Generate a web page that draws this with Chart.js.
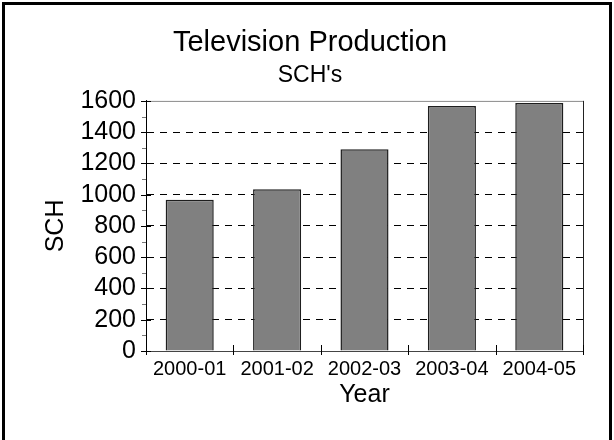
<!DOCTYPE html>
<html>
<head>
<meta charset="utf-8">
<title>Television Production</title>
<script src="https://cdn.jsdelivr.net/npm/chart.js@4/dist/chart.umd.min.js"></script>
<style>
  html, body { margin: 0; padding: 0; background: #fff; }
  #wrap { width: 614px; height: 440px; }
</style>
</head>
<body>
<div id="wrap"><canvas id="sch"></canvas></div>
<script>
// SCH per academic year
const years = ["2000-01", "2001-02", "2002-03", "2003-04", "2004-05"];
const schValues = [967, 1034, 1290, 1568, 1587];
const yMax = 1600;
const yStep = 200;

const FONT = "'Liberation Sans', Arial, Helvetica, sans-serif";

// tick marks, plot frame and page border
const axisMarks = {
    id: "axisMarks",
    afterDraw(chart) {
        const { ctx, chartArea: a, scales: { x, y } } = chart;
        const seg = (x1, y1, x2, y2, color) => {
            ctx.strokeStyle = color;
            ctx.beginPath();
            ctx.moveTo(x1, y1);
            ctx.lineTo(x2, y2);
            ctx.stroke();
        };
        ctx.save();
        ctx.lineWidth = 1;

        // frame of plot area
        seg(a.left, a.top + 0.5, a.right + 1, a.top + 0.5, "#8a8a8a");
        seg(a.right + 0.5, a.top, a.right + 0.5, a.bottom, "#222");

        // y ticks, major every 200, minor in between
        for (let v = 0; v <= yMax; v += yStep / 2) {
            const py = Math.round(y.getPixelForValue(v)) + 0.5;
            if (v % yStep === 0) seg(a.left - 5, py, a.left + 5, py, "#000");
            else seg(a.left - 4, py, a.left, py, "#777");
        }

        // x ticks at category boundaries
        const half = (x.getPixelForValue(1) - x.getPixelForValue(0)) / 2;
        for (let i = 0; i <= years.length; i++) {
            const px = Math.round(x.getPixelForValue(i) - half) + 0.5;
            seg(px, a.bottom - 6, px, a.bottom + 4, "#000");
        }

        // outer border
        ctx.fillStyle = "#000";
        ctx.fillRect(2, 2, 610, 3);
        ctx.fillRect(2, 2, 3, 438);
        ctx.fillRect(609, 2, 3, 438);
        ctx.restore();
    }
};

const ctx = document.getElementById("sch").getContext("2d");
new Chart(ctx, {
    type: "bar",
    data: {
        labels: years,
        datasets: [{
            label: "SCH",
            data: schValues,
            backgroundColor: "#808080",
            borderColor: "#1e1e1e",
            borderWidth: 1.5,
            categoryPercentage: 1,
            barPercentage: 0.55
        }]
    },
    options: {
        responsive: true,
        maintainAspectRatio: false,
        animation: false,
        // left/right padding keeps the titles centred on the page
        layout: { padding: { left: 37, right: 31, top: 0, bottom: 0 } },
        plugins: {
            legend: { display: false },
            tooltip: { enabled: false },
            title: {
                display: true,
                text: "Television Production",
                color: "#000",
                font: { family: FONT, size: 29, weight: "normal" },
                padding: { top: 26, bottom: 0 }
            },
            subtitle: {
                display: true,
                text: "SCH's",
                color: "#000",
                font: { family: FONT, size: 23, weight: "normal" },
                padding: { top: 1, bottom: 11.5 }
            }
        },
        scales: {
            x: {
                grid: { display: false, drawTicks: false },
                border: { display: true, color: "#444", width: 1 },
                ticks: { color: "#000", font: { family: FONT, size: 20 }, padding: 6, maxRotation: 0 },
                title: {
                    display: true,
                    text: "Year",
                    color: "#000",
                    font: { family: FONT, size: 25 },
                    padding: { top: 0, bottom: 30 }
                },
                afterFit: s => { s.height = 89; }
            },
            y: {
                min: 0,
                max: yMax,
                grid: {
                    drawTicks: false,
                    lineWidth: 1,
                    color: c => (c.tick && (c.tick.value === 0 || c.tick.value === yMax)) ? "rgba(0,0,0,0)" : "#000"
                },
                border: { display: true, color: "#000", width: 1, dash: [7, 6] },
                ticks: {
                    stepSize: yStep,
                    autoSkip: false,
                    color: "#000",
                    font: { family: FONT, size: 25 },
                    padding: 10,
                    callback: v => String(v)
                },
                title: {
                    display: true,
                    text: "SCH",
                    color: "#000",
                    font: { family: FONT, size: 25 },
                    padding: { top: 4, bottom: 0 }
                },
                afterFit: s => { s.width = 109; }
            }
        }
    },
    plugins: [axisMarks]
});
</script>
</body>
</html>
